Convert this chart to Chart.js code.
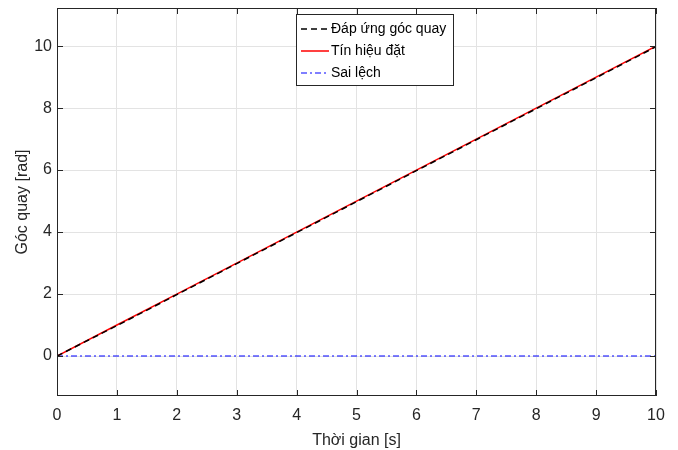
<!DOCTYPE html>
<html>
<head>
<meta charset="utf-8">
<script src="https://cdn.jsdelivr.net/npm/chart.js@4.4.0/dist/chart.umd.min.js"></script>
<style>
  html, body { margin: 0; padding: 0; background: #fff; }
  #wrap { width: 678px; height: 450px; }
</style>
</head>
<body>
<div id="wrap"><canvas id="chart" width="678" height="450"></canvas></div>
<script>
const timeS = [0, 1, 2, 3, 4, 5, 6, 7, 8, 9, 10];
const response = [0, 0.98, 1.98, 2.98, 3.98, 4.98, 5.98, 6.98, 7.98, 8.98, 9.98];
const setpoint = [0, 1, 2, 3, 4, 5, 6, 7, 8, 9, 10];
const errorVals = [0, 0, 0, 0, 0, 0, 0, 0, 0, 0, 0];
const seriesNames = ["Đáp ứng góc quay", "Tín hiệu đặt", "Sai lệch"];
const xTicks = [0, 1, 2, 3, 4, 5, 6, 7, 8, 9, 10];
const yTicks = [0, 2, 4, 6, 8, 10];

const fontFam = "'Liberation Sans', Arial, sans-serif";
const axisColor = "#262626";

function toPoints(ys) {
    return timeS.map((t, i) => ({ x: t, y: ys[i] }));
}

// MATLAB style box, inward ticks and legend inside the axes
const matlabBox = {
    id: "matlabBox",
    afterDatasetsDraw(chart) {
        const ctx = chart.ctx;
        const a = chart.chartArea;
        const xs = chart.scales.x, ys = chart.scales.y;
        ctx.save();
        ctx.strokeStyle = axisColor;
        ctx.lineWidth = 1;
        ctx.setLineDash([]);
        ctx.strokeRect(a.left + 0.5, a.top + 0.5, a.right - a.left - 1, a.bottom - a.top - 1);
        ctx.beginPath();
        xTicks.forEach((v) => {
            const px = Math.round(xs.getPixelForValue(v)) + 0.5;
            ctx.moveTo(px, a.bottom); ctx.lineTo(px, a.bottom - 6);
            ctx.moveTo(px, a.top); ctx.lineTo(px, a.top + 6);
        });
        yTicks.forEach((v) => {
            const py = Math.round(ys.getPixelForValue(v)) + 0.5;
            ctx.moveTo(a.left, py); ctx.lineTo(a.left + 6, py);
            ctx.moveTo(a.right, py); ctx.lineTo(a.right - 6, py);
        });
        ctx.stroke();

        // legend
        const lx = 296, ly = 14, lw = 157, lh = 71;
        ctx.fillStyle = "#fff";
        ctx.fillRect(lx, ly, lw, lh);
        ctx.strokeStyle = "#262626";
        ctx.strokeRect(lx + 0.5, ly + 0.5, lw, lh);
        ctx.font = "14px " + fontFam;
        ctx.textBaseline = "middle";
        chart.data.datasets.forEach((ds, i) => {
            const y = ly + 15 + i * 22;
            ctx.beginPath();
            ctx.strokeStyle = ds.borderColor;
            ctx.lineWidth = ds.borderWidth;
            ctx.setLineDash(ds.borderDash || []);
            ctx.moveTo(lx + 5, y);
            ctx.lineTo(lx + 33, y);
            ctx.stroke();
            ctx.setLineDash([]);
            ctx.fillStyle = "#000";
            ctx.fillText(ds.label, lx + 35, y);
        });
        ctx.restore();
    }
};

new Chart(document.getElementById("chart"), {
    type: "scatter",
    data: {
        datasets: [
            {
                label: seriesNames[0],
                data: toPoints(response),
                showLine: true,
                borderColor: "#000000",
                borderWidth: 1.5,
                borderDash: [6, 4],
                pointRadius: 0,
                order: 0
            },
            {
                label: seriesNames[1],
                data: toPoints(setpoint),
                showLine: true,
                borderColor: "#ff0000",
                borderWidth: 1.5,
                pointRadius: 0,
                order: 1
            },
            {
                label: seriesNames[2],
                data: toPoints(errorVals),
                showLine: true,
                borderColor: "#0000ff",
                borderWidth: 1.2,
                borderDash: [6, 3, 2, 3],
                pointRadius: 0,
                order: 2
            }
        ]
    },
    options: {
        responsive: false,
        animation: false,
        layout: { padding: { left: 0, right: 22, top: 8, bottom: 0 } },
        plugins: { legend: { display: false }, tooltip: { enabled: false } },
        scales: {
            x: {
                type: "linear",
                min: 0,
                max: 10,
                afterBuildTicks: (s) => { s.ticks = xTicks.map((v) => ({ value: v })); },
                afterFit: (s) => { s.height = 54; s.paddingLeft = 0; s.paddingRight = 0; },
                grid: { color: "#e3e3e3", drawTicks: false },
                border: { display: false },
                ticks: { color: axisColor, font: { family: fontFam, size: 16 }, padding: 10, maxRotation: 0 },
                title: { display: true, text: "Thời gian [s]", color: axisColor, font: { family: fontFam, size: 16 }, padding: { top: 2, bottom: 0 } }
            },
            y: {
                min: -1.29,
                max: 11.23,
                afterBuildTicks: (s) => { s.ticks = yTicks.map((v) => ({ value: v })); },
                afterFit: (s) => { s.width = 57; s.paddingTop = 0; s.paddingBottom = 0; },
                grid: { color: "#e3e3e3", drawTicks: false },
                border: { display: false },
                ticks: { color: axisColor, font: { family: fontFam, size: 16 }, padding: 5 },
                title: { display: true, text: "Góc quay [rad]", color: axisColor, font: { family: fontFam, size: 16 }, padding: { top: 13, bottom: 0 } }
            }
        }
    },
    plugins: [matlabBox]
});
</script>
</body>
</html>
